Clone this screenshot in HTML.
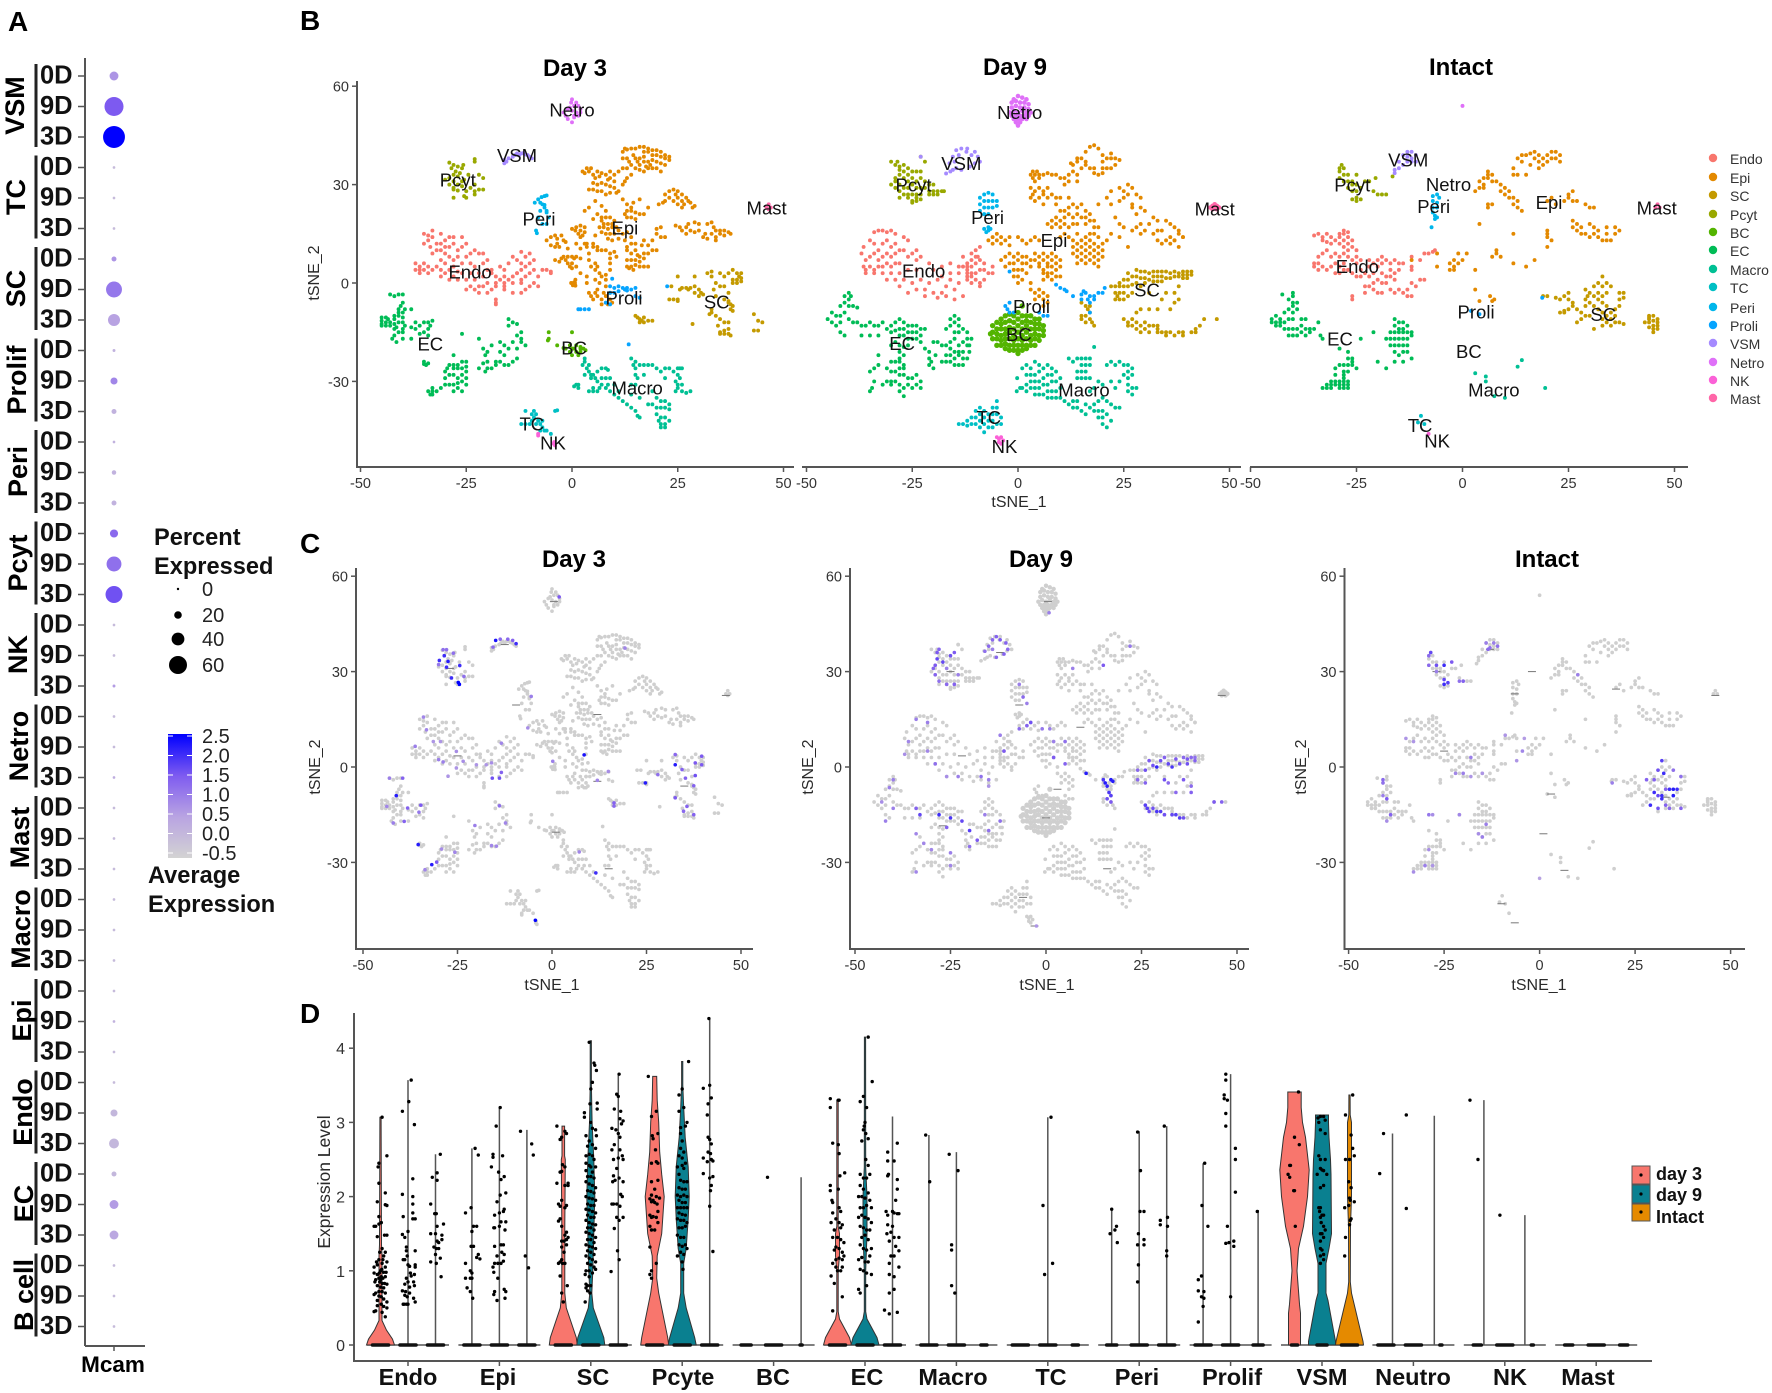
<!DOCTYPE html>
<html lang="en">
<head>
<meta charset="utf-8">
<title>Mcam expression across cell types</title>
<style>
html,body{margin:0;padding:0;background:#fff;}
#figure{display:block;width:1772px;height:1393px;font-family:"Liberation Sans",sans-serif;filter:blur(.35px);}
text{font-family:"Liberation Sans",sans-serif;fill:#1a1a1a;}
.bold{font-weight:700;fill:#000;}
.letter{font-weight:700;font-size:28px;fill:#000;}
.ptitle{font-weight:700;font-size:24px;fill:#000;text-anchor:middle;}
.axt{font-size:16px;fill:#2a2a2a;text-anchor:middle;}
.legA{font-weight:700;font-size:23.6px;fill:#111;}
.legN{font-size:20px;fill:#222;}
.cat{font-weight:700;font-size:23.5px;fill:#111;text-anchor:middle;}
.legT{font-size:14px;fill:#333;}
.legD{font-weight:700;font-size:18px;fill:#111;}
</style>
</head>
<body>
<svg id="figure" xmlns="http://www.w3.org/2000/svg" width="1772" height="1393" viewBox="0 0 1772 1393">
  <defs>
    <linearGradient id="exprGrad" x1="0" y1="1" x2="0" y2="0">
      <stop offset="0" stop-color="#d3d3d3"/><stop offset=".33" stop-color="#b9a4e2"/><stop offset=".66" stop-color="#7f5cf0"/><stop offset="1" stop-color="#0000ff"/>
    </linearGradient>
  </defs>
  <text class="letter" x="8" y="31">A</text>
  <text class="letter" x="300" y="30">B</text>
  <text class="letter" x="300" y="553">C</text>
  <text class="letter" x="300" y="1023">D</text>

  <g id="panelA"></g>
  <text class="bold" x="113" y="1372" font-size="22.5" text-anchor="middle">Mcam</text>
  <text class="legA" x="154" y="545">Percent</text>
  <text class="legA" x="154" y="574">Expressed</text>
  <rect x="168" y="734" width="24" height="124" fill="url(#exprGrad)"/>
  <text class="legA" x="148" y="883">Average</text>
  <text class="legA" x="148" y="912">Expression</text>
  <g id="legendA"></g>

  <g id="panelB"></g>
  <text class="ptitle" x="575" y="76">Day 3</text>
  <text class="ptitle" x="1015" y="75">Day 9</text>
  <text class="ptitle" x="1461" y="75">Intact</text>
  <text class="axt" x="1019" y="507">tSNE_1</text>
  <text class="axt" transform="translate(319,273) rotate(-90)">tSNE_2</text>

  <g id="panelC"></g>
  <text class="ptitle" x="574" y="567">Day 3</text>
  <text class="ptitle" x="1041" y="567">Day 9</text>
  <text class="ptitle" x="1547" y="567">Intact</text>
  <text class="axt" x="552" y="990">tSNE_1</text>
  <text class="axt" x="1047" y="990">tSNE_1</text>
  <text class="axt" x="1539" y="990">tSNE_1</text>
  <text class="axt" transform="translate(320,767) rotate(-90)">tSNE_2</text>
  <text class="axt" transform="translate(813,767) rotate(-90)">tSNE_2</text>
  <text class="axt" transform="translate(1306,767) rotate(-90)">tSNE_2</text>

  <g id="panelD"></g>
  <text class="axt" font-size="17.5" style="font-size:17.5px" transform="translate(330,1182) rotate(-90)">Expression Level</text>
  <text class="cat" x="408" y="1385">Endo</text>
  <text class="cat" x="498" y="1385">Epi</text>
  <text class="cat" x="593" y="1385">SC</text>
  <text class="cat" x="683" y="1385">Pcyte</text>
  <text class="cat" x="773" y="1385">BC</text>
  <text class="cat" x="867" y="1385">EC</text>
  <text class="cat" x="953" y="1385">Macro</text>
  <text class="cat" x="1051" y="1385">TC</text>
  <text class="cat" x="1137" y="1385">Peri</text>
  <text class="cat" x="1232" y="1385">Prolif</text>
  <text class="cat" x="1322" y="1385">VSM</text>
  <text class="cat" x="1413" y="1385">Neutro</text>
  <text class="cat" x="1510" y="1385">NK</text>
  <text class="cat" x="1588" y="1385">Mast</text>
  <g>
    <rect x="1632" y="1166" width="18" height="18" fill="#F8766D" stroke="#555"/>
    <rect x="1632" y="1185" width="18" height="18" fill="#0a8090" stroke="#555"/>
    <rect x="1632" y="1204" width="18" height="17" fill="#E58A00" stroke="#555"/>
    <circle cx="1641" cy="1175" r="1.6" fill="#000"/>
    <circle cx="1641" cy="1194" r="1.6" fill="#000"/>
    <circle cx="1641" cy="1212" r="1.6" fill="#000"/>
    <text class="legD" x="1656" y="1180">day 3</text>
    <text class="legD" x="1656" y="1201">day 9</text>
    <text class="legD" x="1656" y="1223">Intact</text>
  </g>
</svg>
<script>
/* ---------- Panel A data ---------- */
const dotGroups=['VSM','TC','SC','Prolif','Peri','Pcyt','NK','Netro','Mast','Macro','Epi','Endo','EC','B cell'];
const dotDays=['0D','9D','3D'];
const dotPct=[25,64,75, 1,1,1, 10,52,37, 2,18,10, 1,8,10, 22,48,56, 1,1,2, 1,1,1, 1,1,1, 1,1,1, 1,1,1, 1,18,29, 10,25,25, 1,1,1];
const dotExpr=[.7,1.5,2.5, 0,0,0, .7,1.1,.5, .2,.9,.2, .2,.2,.2, 1.3,1.2,1.6, 0,0,.6, 0,0,.3, 0,0,0, 0,0,0, 0,.2,0, 0,.1,.1, .1,.6,.4, 0,0,0];
const pctLegend=[0,20,40,60];
const exprLegend=['2.5','2.0','1.5','1.0','0.5','0.0','-0.5'];
const exprLegendValues=[2.5,2,1.5,1,.5,0,-.5];

/* ---------- tSNE data: Day 3 ---------- */
const d3Endo=[-35,15,-34,13,-33,16,-33,14,-35,12,-32,12,-31,15,-30,13,-32,10,-33,9,-31,10,-30,9,-29,11,-28,12,-27,10,-26,11,-25,12,-26,14,-28,14,-34,14.5,-33.5,11,-31,7,-29,8,-27,8,-25,8,-24,9,-23,10,-22,9,-21,9,-37,6,-36,5,-35,6,-36,4,-35,4,-34,5,-34,3,-36,3,-33,4,-37,4,-32,5,-30,6,-31,4,-29,4,-28,5,-26,6,-24,6,-23,5,-21,6,-20,7,-22,3,-24,3,-26,3,-28,2,-30,3,-31,2,-29,1,-27,1,-25,1,-23,1,-21,2,-20,4,-19,3,-18,2,-17,1,-16,0,-15,1,-14,2,-13,3,-12,4,-11,5,-10,6,-12,6,-13,7,-14,8,-11,8,-9,7,-9,4,-10,3,-11,2,-12,1,-8,2,-9,0,-10,-1,-11,-2,-12,-3,-14,-3,-16,-2,-18,-1,-19,-2,-20,-3,-22,-3,-23,-2,-25,-2,-24,-1,-22,-1,-20,0,-18,0,-16,2,-14,0,-12,0,-8,-1,-7,4,-6,4,-5,3.5,-5,3,-18,-5,-18,-6,-18,-6.5,-19,4,-17,5,-16,4,-15,6,-10,9,-12,9.5,-13,3,-16,-1,-21,-1,-27,3.5,-28,7,-30,11,-29,14,-31,12];
const d3Epi=[12,40,12.5,41,13,40.7,14,41,15,41,16,41.5,17,41.5,17,40,18,41,18,40,19,40.5,19,39,20,40.5,20,39,21,40,21,38.5,22,39,22,38,23,38.5,23,37.5,12,38,13,38,13.5,37,14.5,39,15,38,15.5,37,16,38,16,36,17,38.5,17,37,17.5,35.5,18,37,18,35,18.5,36,19,37.5,19,35,20,37,20,35,21,36.5,21,34,22,36,16,34.5,17,34,15,35,14,36,13,35,12,35,11,34,10,33,9,32,2.5,34,3,33.5,3.5,35,4,34,4.5,35,5,33,5.5,32,6,34,6.5,32.5,7,33.5,8,33,8.5,31.5,9,34,5,30.5,6,30,7,30.5,8,30,9,29.5,10,31,10,29,10.5,27.5,9,27.5,8,27,5,28.5,4,28.5,6,28,7,28,11,28,12,30,12.5,31,13,32,14,33,12,25.5,13,24,14,23,13,22,14,22,12.5,21,15,21.5,16,21,13,20,14,20,15,19.5,14.5,24.5,16,25.5,18,23,17,21,4,23,5.5,25,6,21,7,20,5,19.5,3,22,7,19,8,20,9,20,7.5,18,8.5,18,9.5,18,10,19,6.5,17,7.5,17,8.5,16.5,9.5,17,10.5,17,11,16,7,15.5,8,15,9,15,10,15,12,15,13,15.5,14,14,8.5,13.5,9.5,13,11,13.5,12.5,13,14,12,0,16.5,1,17,2,17.5,3,17,.8,16,2,16,3,15.5,1.5,15,2.5,14.5,2,14,3.5,12,5,12,6,11,-6,13,-5,14,-4,14.5,-3.5,13.5,-2.5,14.5,-2,13,-5,11.5,-4,11,-3.5,12,-1.5,12.5,-4,7,-3,6.5,-2.5,7.5,-2,8,-1.5,7,-1,8,0,8,.5,7.5,1,8,2,7.5,-1,6,0,6,-.5,5,0,4.5,1,5,2,3,.8,1,.5,.2,.8,-.8,.7,0,-.2,0,.5,-.5,.2,-.7,5,11,6,10,7,10,8,10,9,9,10,9.5,5.5,6,4.5,5,5.5,4,6,5,6.5,3,7,2,5.5,1,6.5,0,6,-2,5.5,-3,4,-3,4.5,-4,5,-5,6,-4,7,-5,7.5,-3,8,-4,8,-6,9,-5,7,-6.5,8.5,-6.5,9.5,-6,9,-3,8,-1,8,1,8,2.5,9,4,9,6,9,7.5,10.5,8,13,11,14,9,15,10,15.5,8.5,16,8,17,9,13,7,14,7,15,7,16,6.5,13,5,14,5,15,5.5,16,5,17,5,18,5,13.5,4.5,14.5,4,17,7.5,18,9,19,10,20,10,15,12,16.5,11.5,18,11.5,19,13,20,15,21,14,20,16.5,21,17,22,14,17,13,13,10,20.5,24,21.5,24.5,22,25,22,27,23,26,23,28,24,28.5,24.5,27,25,28,25,26,26,27,24,25,25,24,26,25,27,26,27.5,25,28,24.5,28.5,23,29,23.5,26,23,26.5,24,24.5,17.5,25.5,17,26,16,27,17,27.5,18,28,16,29,15.5,29,18.5,30,18,30,16,31,14,31.5,15,32,13.5,32,18,33,18.5,33.5,17,34,16,33,15,34,14,35,16,35,15,36,14.5,36,16,37,15.5,37.5,15,34,13,27,15,-3,11,-1,10.5,1,12,2,10.5,3,12,3.5,11,4,9,4,7,5.5,14.5,7,23.5,8,22,3.5,2,3.5,0];
const d3SC=[25,2,25.5,-2,26,-1.5,27,-1.5,28,-1.5,29,2,27.5,-2,29,-1,30,-2,30.5,-3,29,-3,30,-4,31,-3.5,23,-5,24,-5,25,-5.5,25,-5,23.5,-1,32,3,33,3.5,33,2,35,3,36,2,37,3,38,4,39,3,40,3,39.5,2,39,1,40,1.5,38,1,39,0,38,0,40,.5,34,0,35,-1,36,-1,37,-3,33.5,-2,34,-4,37,-6,37.5,-6.5,38,-7,36,-5,37.5,-8,38,-8.5,37,-5.5,33,-8,33,-9,32.5,-9.5,34,-10,35,-11,36,-12,37,-12,34.5,-13,37,-14,36,-14.5,35,-15,36,-15.5,37,-15.5,37.5,-16,35,-15.5,28.5,-12.5,43,-9.5,44,-11.5,45,-12,43,-14.5,44,-14.5,15,-10,15.5,-10.5,16,-11,16.5,-11.5,17,-12,16,-12,18,-11.5,19,-11.5,17,-10.5];
const d3Pcyt=[-29,36.7,-28,36,-28.5,35,-27,35.5,-27.5,34,-28,33,-26,35,-25.7,36,-23,37,-23,37.8,-26.5,33.5,-27,32.5,-28,31,-29,32,-30,31.5,-29,30,-28,29,-27,30,-26,29.5,-25,28,-24,29,-25,26,-25.5,26.5,-28,26,-22,33,-21,32,-23,30,-23,28,-22,28.5,-21,28.5,-25.5,31.5,-24.5,33,-26,31,-28,28.5,-27,28.2,-23,27];
const d3BC=[-5.5,-15,-5.5,-17,-5.7,-17.5,0,-15,-3.5,-19,-2,-19.8,-1.5,-20,-.5,-19,0,-20,.5,-20,1,-19,1,-21,2,-19.5,2,-20,2,-21,2.7,-20,-.5,-21,3.2,-20.5,1.5,-22,0,-22];
const d3EC=[-43,-3.5,-42,-4,-41,-3.5,-40,-3.5,-40,-6,-40.5,-7,-41,-8,-39.5,-8,-41,-9,-40,-9,-38,-8,-42,-10,-41,-10,-40,-10.5,-45,-10.5,-45,-11.5,-45,-12.5,-45,-13,-44,-10.5,-44,-12,-44,-13,-43.5,-11,-43,-12,-43,-13,-42,-11,-42,-12.5,-41.5,-13.5,-41,-12,-40,-12,-39.5,-13,-40,-14,-41,-15,-40,-15,-42,-14,-42,-16,-42.5,-17,-41.5,-18,-40,-17,-38,-17,-37,-14,-36,-13,-35,-12,-34,-12,-33,-11.5,-35,-15,-34,-16,-36,-15.5,-37,-12,-38,-13.5,-33.5,-13,-34,-14,-26,-15.5,-22,-17,-35,-24,-35,-24.7,-34.5,-25,-34,-24.5,-28,-22,-29,-25,-28,-25,-27,-25,-26,-24,-25,-24,-28,-26,-27,-26,-26,-26,-25,-25.5,-25,-27,-29.5,-26,-30,-27,-30,-29,-29,-28,-28,-28,-27,-29,-26,-28,-25,-29,-25,-31,-26,-30,-27,-32,-26,-33,-28,-33,-28,-31,-27,-30.5,-29,-31,-30,-31,-31,-32,-32,-33,-33,-32,-34,-33,-33.5,-34,-33,-33,-33,-34,-22,-26,-20,-24,-19,-19,-21,-20,-20,-21,-20.5,-22,-21,-24.5,-20,-26,-20.5,-27,-19,-26,-18,-24,-18,-25,-17,-24,-16,-25,-15,-25,-14,-24,-13,-23,-16,-22,-17,-21,-15,-20,-13,-20,-14,-18,-12,-18,-11,-19,-13,-16,-12,-15,-15,-13,-15,-11,-14,-12,-13,-12.5,-12,-17,-16,-19,-17,-18];
const d3Macro=[3,-23,3,-24,4,-25,3.5,-26,4,-27,4.5,-28,3,-28,2.5,-25,4.5,-29,5,-28,5.5,-29,6,-27,7,-26,8,-26,8.5,-26.5,6,-30,7,-29,7,-31,8,-29,8.5,-31,6.5,-32,5,-32,9,-29,9,-33,10,-31,10,-34,11,-33,11,-35,12,-36,13,-37,14,-38,15.5,-40.5,15,-39,16,-41,.5,-31.5,1,-31,1.5,-32,1.5,-31,4,-33,5,-33,6,-33,8,-32,14,-23,15,-24,15,-26,14.5,-25,15,-28,15.5,-29,14,-31,15,-31,16,-25,17,-25,17,-28,18,-25,19,-25,20,-26,21,-27,22,-26,23,-26,24,-27,25,-26,25.5,-26,26,-26,25,-28,25.5,-29,24.5,-30,25,-31,26,-31,25,-32,24.5,-33,26,-33,27,-33.5,28,-33,22,-29,16,-35,14,-34,19,-33,20,-35,21,-36,22,-36,23,-37,20,-38,21,-38,22,-38,23,-38.5,20,-40,21,-41,22,-41,23,-42,21,-43,22,-43,20.5,-42,22,-44,21,-44,19,-37,18,-37];
const d3TC=[-12,-43,-11,-43,-10,-43,-9.5,-42,-9,-39,-11,-39,-9.5,-40,-9,-41,-8.5,-43,-8,-42,-7.5,-43,-7,-42,-8.5,-40,-7,-44,-6.5,-45,-6,-45,-4,-39,-3.5,-38.8,-5,-46,-7.5,-45];
const d3Peri=[-8.8,24.5,-8,25.5,-7.2,26.2,-6.5,26.5,-6,26.7,-7.5,24.5,-7,24,-6.5,23,-6,22,-7.5,22,-6,21.5,-5.5,20,-8,20,-7,18,-6,18,-8.5,16,-8.3,15.2,-6.5,23.8];
const d3Proli=[9.5,1.3,9,-1,10,-1.5,11,-1,12,-1.5,12.5,-2,13,-1.5,13,-2.3,14,-2,15,-1.5,11,-2.5,10,-3,9,-3,8,-6,9,-6.5,15,-4,16,-4.5,2,-8,3,-8,1.5,-8,4,-8,13.4,-18.7,22.5,-1];
const d3VSM=[-16,36.5,-15.5,37,-15,38,-14,38.5,-13,39.5,-12.5,39,-12,39.5,-11,39.2,-10.5,39,-10,38.5,-9.5,38,-16,37.5,-13.5,39,-11.5,39.6];
const d3Netro=[0,56,1,55,.5,54,-.5,53.5,1.5,54,2,53,-1,53,0,52.5,1,52,-2,52,-1.5,51,.5,51,1.5,51,2,52,-1,50,0,49,.5,50.5,-.2,55];
const d3NK=[-8,-46,-8,-46.5,-4.3,-49,-4,-49.5,-4.2,-48.5];
const d3Mast=[46.5,24,46,23,47,23,46.5,22.5];

/* ---------- tSNE data: Day 9 ---------- */
const d9Endo=[-37,9,-36.5,11,-36,7,-36.5,5,-35,13,-34,15.5,-33,16,-32,16,-31,15.5,-30,16,-29,15,-27,14,-26,13,-34,12,-33,10,-32,12,-31,13,-30,11,-29,12,-35,8,-34,9,-33,7,-32,8,-31,9,-30,8,-29,9,-28,10,-27,10,-35,5,-36,4,-34,4,-33,5,-32,5,-31,6,-30,5,-29,6,-28,6,-26,8,-25,9,-24,10,-24,7,-23,8,-24,4,-26,4,-28,3,-30,3,-32,3,-34,3,-36,3,-31,1,-29,1,-27,1,-25,0,-23,1,-21,0,-22,-2,-24,-2,-26,-3,-28,-1,-20,-3,-18,-3,-17,-4,-19,-4.5,-22,-4,-20,4,-18,5,-16,6,-18,2,-16,1,-14,0,-15,-2,-13,-4,-15,-5,-17,-1,-19,1,-21,6,-14,5,-12,6,-11,7,-13,8,-11,9,-10,10,-9,11,-10,8,-12,5,-13,5,-12,4,-11,5,-10,6,-9,7,-8,6,-11,3,-12,3,-10,3,-11,2,-12,2,-9,4,-8,4,-10,1,-11,0,-9,0,-7,3,-6,3,-9.5,8,-12,1,-9,-1,-8,1,-14,3,-16,3,-6,5];
const d9Epi=[3,33,3.5,34,4,33,4.5,34,5,33,3.5,32,4,31,5,32,6,33,7,33.5,8,33,9,33,10,32,11,32,12,33,13,34,14,33,12,31,11,30,14,31,3,29,3.5,27,4,28,5,29,6,28,7,29,5,26,6,27,7,26,8,27,9,26,10,26,3,26,4,25,6,24,12.5,36.5,13,36,14,37,15,38,15,35,16,36,16,40,17,41.5,18,42,19,41,16,37,17,35,18,35,18,33.5,19,33,20,35,20,37,21,38,22,38,23,38,24,37.5,21,35,20,33.5,22,35,23,36,14,38,20,39,22,39.5,19,24,21,26,22,28,24,29,25,28,26,30,27,29,26,27,25,26,24,25,28,27,29,26,27,24,29,23,30,22,28,21,27,23,22,24,23,20,24,18,25,17,27,16,28,17,29,15,30,16,31,18,33,19,29,18,32,15,35,19,36,18,37,17,38,16,38,15,39,14,37,13,36,14,35,13,34,16,33,13,33,16,32,20,9,24,10,22,11,22,12,23,13,24,14,23,15,24,16,22,12,26,13,20,11,20,10,19,8,19,9,20,12,21,14,21,16,20,17,19,18,17,17,21,15,20,13,18,11,18,9,18,8,17,7,18,10,17,12,17,14,18,16,18,18,19,19,17,13,13,14,12,15,13,16,12,17,13,18,12,19,11,13,11,14,10,15,11,16,10,17,11,18,10,19,9,13,9,14,8,15,9,16,8,17,9,18,8,19,7,14,6,15,7,16,6,17,7,18,6,19,5,20,8,20,10,20,12,16,14,14,15,18,15,17,15,19,14,12,14,11,15,10,14,4,9,5,8,6,9,7,8,8,9,9,8,10,7,4,7,5,6,6,7,7,6,8,7,9,6,10,5,5,5,6,4,7,5,8,5,9,4,6,3,7,3,8,3,7,2,6,1,8,1,10,2,9,2,-4,7,-3,8,-2,9,-1,8,0,9,1,8,2,8,3,7,-3,5,-2,6,-1,6,0,7,1,6,2,6,3,5,-1,4,0,4,1,4,2,3,0,2,1,1,-1,2,0,0,3,0,-7,13,-6,14,-5,15,-4,14,-5,13,-4,12,-3,13,-2,14,-6,12,-2,11.5,0,14,1,13,2,12,3,13,4,14,5,13,3,-2,4,-3,5,-2,6,-3,5,-4,6,-5,7,-6,7,-4,4,-5,6,-7,24,14,21,13,22,15,26,11,36,12,38,11,37,13,39,14,34,12];
const d9SC=[39,3.5,40,3.5,41,3.5,39,2.5,40,2.5,41,2.5,38,3,37,3.5,38,2,37,2,39,1.5,40,1.5,36,3,35,3.5,34,3.5,33,3.5,32,3.5,31,3,30,3.5,29,3.5,28,4,36,1.5,35,1.5,34,2,33,2,32,2,31,1,30,1.5,29,1.5,28,2,27,2,26,3,33,.5,32,.5,34,.5,30,0,28,0,26,1,25,1,24,0,23,-1,22,-1,24,-1,25,-1,26,-1,27,-.5,29,-1,23,-3,23.5,-4,24,-3,25,-3,24,-5,23,-5,25,-5,26,-4,27,-3,31,-3,34,-5,35,-3,37,-3,38,-1,38,-5,37,-6,36,-8,33,-8,31,-8,28,-9,29,-8,15,-6,16,-7,16.5,-8,17,-9,17,-7,15,-10,16,-10,15,-11,17,-11,16,-12,17.5,-12,18,-13,25,-11,26,-12,27,-13,26,-13,27,-11,28,-12,28,-14,29,-13,29,-15,30,-12,31,-13,31,-15,32,-13,33,-14,33,-15,34,-15,35,-15,35,-16,36,-15,37,-16,38,-15,39,-16,39,-15,41,-15,42,-15,43,-13,44,-11,42,-14,47,-11,33,-13,30,-14];
const d9Pcyt=[-30,37,-29,36,-28.5,37,-28,35.5,-28,34.5,-27,36,-27,34,-26,35,-26,33,-25,34,-24,34,-28,33,-29,32,-29,31,-30,30,-29,29,-28,30,-27,32,-26,31,-25,32,-24,31,-23,32,-22,31,-21,30,-28,28,-27,29,-26,29,-25,30,-24,29,-23,29,-22,29,-21,28,-20,28,-20,27,-19,28,-18,28,-19,27,-21,27,-23,27,-24,27,-25,27,-26,27,-27,27,-28,26,-26,26,-25,25,-24,26,-25,24.5,-24,25,-23,25.5,-23,34,-22,37,-23,38.5,-17.5,28,-20,30];
const d9BC=[-4,-11,-3,-10,-2,-9.5,-1,-10,0,-9,1,-10,2,-10,3,-10,4,-11,5,-11,-5,-12,-4,-12.5,-3,-12,-2,-11.5,-1,-12,0,-11,1,-12,2,-11.5,3,-12,4,-12.5,5,-12.5,6,-13,-6,-13,-5,-14,-4,-14,-3,-14,-2,-13.5,-1,-14,0,-13,1,-14,2,-13,3,-14,4,-14,5,-14,6,-14.5,-6,-15,-5,-15.5,-4,-16,-3,-15.5,-2,-15,-1,-16,0,-15,1,-16,2,-15,3,-16,4,-15.5,5,-16,6,-16,-6,-17,-5,-17,-4,-17.5,-3,-17,-2,-17,-1,-17.5,0,-17,1,-17.5,2,-17,3,-17.5,4,-17,5,-17.5,-5,-19,-4,-19,-3,-18.5,-2,-19,-1,-19,0,-19,1,-19,2,-19,3,-19,4,-19,-3,-20,-2,-20.5,-1,-20.5,0,-20.5,1,-20.5,2,-20,0,-21.5,1,-7,-6.5,-15.5];
const d9EC=[-40,-3,-41,-4,-39.5,-4,-40,-5,-41,-6,-42,-7,-40,-7,-39,-7,-38,-7.5,-44,-9,-43,-10,-42,-10,-41,-9,-45,-11,-44,-12,-43,-13,-42,-12,-40,-11,-39,-12,-38,-12,-37,-13,-36,-13,-42,-15,-41,-16,-37,-16,-35,-16,-33,-16,-35,-12,-34,-13,-33,-13,-32,-12,-31,-14,-30,-13,-29,-12,-28,-11,-27,-12,-26,-13,-25,-13,-24,-13,-23,-14,-22,-14,-30,-15,-29,-14.5,-28,-14,-27,-14,-26,-15,-25,-15,-24,-15,-23,-16,-28,-16,-27,-16,-26,-17,-25,-17,-24,-17,-23,-18,-29,-18,-30,-19,-28,-19,-26,-19,-22,-20,-20,-18,-19,-18,-18,-19,-15,-10,-16,-11,-15,-12,-14,-11,-16,-13,-14,-13,-13,-14,-17,-14,-15,-15,-14,-15,-12,-15,-12,-17,-11,-17,-13,-18,-15,-17,-16,-18,-17,-19,-14,-19,-12,-19,-11.5,-19,-16,-20,-15,-21,-14,-21,-13,-21,-17,-22,-16,-22,-15,-23,-14,-22,-13,-23,-12,-23,-11.5,-21,-18,-24,-17,-24,-16,-24,-15,-25,-14,-25,-13,-25,-21,-21,-21,-23,-21,-25,-20,-26,-20.5,-24,-19.5,-22,-27,-22,-28,-23,-29,-24,-28,-24,-27,-25,-27,-26,-28,-26,-29,-27,-30,-27,-31,-26,-28,-28,-27,-28,-26,-29,-25,-29,-26,-31,-25,-32,-27,-32,-28,-33,-30,-30,-31,-30,-32,-31,-29,-30,-30,-31,-28,-31,-33,-25,-34,-26,-35,-27,-30,-24,-28,-21,-27,-19.5,-33,-22,-24,-28,-23,-30,-24,-31,-23,-32,-27,-34.5,-35,-33,-34.5,-32,-34,-30];
const d9Macro=[1,-26,2,-25,3,-26,4,-24,5,-25,5,-27,4,-28,3,-28,2,-28,6,-26,7,-25,8,-26,3,-30,4,-30,5,-30,6,-29,7,-28,8,-28,9,-27,2,-31,1,-32,.5,-32,2,-33,3,-32,4,-32,5,-32,6,-31,7,-31,8,-30,9,-30,10,-29,4,-34,5,-34,6,-34,7,-33,8,-33,9,-33,10,-32,7,-35,8,-35,9,-35,10,-35,11,-36,12,-37,13,-38,14,-38,15,-39,16,-40,14,-36,13,-36,16,-37,17,-38,18,-37,19,-36,20,-35,21,-36,22,-37,23,-38,24,-38,18,-39,19,-39,19,-41,20,-41,20,-43,21,-44,22,-42,21,-40,20,-39,12,-23,13,-24,14,-23,15,-23,16,-23,17,-23,15,-25,16,-25,17,-25,14,-27,15,-27,16,-27,15,-29,16,-29,14,-29,17,-29,21,-25,22,-24,23,-25,24,-24,25,-25,26,-25,26,-27,27,-26,27,-28,26,-29,25,-28,26,-31,27,-32,28,-32,26,-33,27,-34,23,-32,24,-30,22,-30,20,-31,19,-30,18,-32,17,-33,18,-19.5,-.2,-29,-.3,-33];
const d9TC=[-14,-43,-13,-43,-12,-42,-12,-43.5,-11,-41,-11,-43,-10,-39,-10,-41,-10,-43,-9,-38,-9,-40,-9,-42,-9,-44,-8,-39,-8,-41,-8,-43,-8,-45.5,-7,-40,-7,-42,-7,-44,-6,-38,-6,-40,-6,-42,-6,-44,-5,-36,-5,-38,-5,-40,-5,-43,-4,-41,-4,-43];
const d9Peri=[-9,26,-8,27,-7,27.5,-6,27,-9,24,-8,25,-7,25,-6,25,-5,25,-5,23.5,-8,23,-7,23,-6,23,-8,21,-7,21,-7,17,-8,16.5,-7,16,-6.5,16.5,-7.5,15.5,-9,22];
const d9Proli=[9,-.5,10,-1.5,11,-2,11.5,-2.5,13,-4,15,-3.5,15.5,-2.5,15,-5,16,-3,17,-4,18,-4,18,-5,17,-6,16.5,-5,19,-3,20,-3,20.5,-1.5,-2,-6,-3,-7,-2.5,-8,-2,-9,-1,-9,5,-9,6,-10,7,-10,17,-9,-2,3.5];
const d9VSM=[-17,33.4,-16,34,-15.4,34.5,-16.2,36.5,-15.4,38.5,-14.6,40.5,-13.4,41,-12.2,40,-11,39,-10.2,40,-9.5,38.5,-9,37,-10.2,36.5,-11.4,35.5,-13.4,34.5,-14.6,35,-15,37,-14,39,-12,41,-23,38.5];
const d9Netro=[-1,56,0,57,1,56.5,2,56,-1.5,55,-.5,55.5,.5,55,1.5,55,2.5,54.5,-1.5,53.5,-.5,54,.5,53.5,1.5,53.5,2.5,53,-2,52,-1,52.5,0,52,1,52.5,2,52,3,52,-1.5,51,-.5,51,.5,51,1.5,51,2.5,51,-1,50,0,50,1,50,2,50,-.5,49,.5,49,0,48];
const d9NK=[-5,-47,-4.5,-47.5,-4,-47,-4.5,-48.5,-4,-49,-3.5,-48];
const d9Mast=[46,23.5,47,23.5,46.5,23,46,22.5,47,22.5,46.5,24,47.5,23,45.5,23];

/* ---------- tSNE data: Intact ---------- */
const inEndo=[-35,14.5,-34,15,-33,14,-32,15,-31,14,-33,13,-32,12.5,-31,12,-30,13,-29,14,-28,15,-28,16,-27,15.5,-29,15,-27,14,-28,13,-29,12,-27,12,-26,13,-28,11,-26,11,-25,10,-27,10,-28,9,-30,9,-32,10,-33,9,-34,8,-31,8,-29,8,-35,6,-35,5,-34,6,-33,5,-34,4,-32,4,-31,5,-30,6,-29,5,-28,6,-27,8,-26,7,-25,8,-25,6,-24,7,-30,3,-29,3,-28,4,-27,4,-26,3,-25,2,-24,2,-23,3,-22,2,-21,3,-24,4,-22,5,-21,6,-20,7,-19,8,-22,7,-20,5,-19,6,-18,7,-17,6,-16,7,-15,6,-14,6,-17,4,-16,3,-15,4,-19,3,-18,2,-17,2,-16,1,-20,1,-19,0,-18,0,-21,0,-22,-1,-23,-1,-21,-2,-20,-3,-23,-3,-19,-3,-17,-2,-16,-3,-26,-4,-26,-5,-15,-2,-14,-3,-13,-4,-12,-4,-13,-2,-11,-1,-12,0,-10,1,-9,1,-12,4,-12,5,-12,8,-10,7,-9,9,-8,9,-7,9.5,-6.5,10];
const inEpi=[13,38,14,39,15,39,16,39.5,17,40,17,38,18,39,18,37,19,38,19,36,20,39,20,37,21,40,21,38,22,40,22,38,23,39,23,37,14,37,16,36,18,35,12,35,12,33,13,33,15,33,6,34,6,33,5,32,6,32,7,33,7,31,8,31,5,30,4,31,5,29,4,29,3,28,9,30,9,28,10,29,10,27,11,28,11,26,12,26,13,23,13,25,14,22,12,24,6,24,7,24,6,23,20,25,21,26,22,24,24,25,25,26,25,27,26,28,26,25,27,25,29,24,30,23,31,23,26,19,26,17,27,18,27,16,28,17,29,15,30,14,31,15,32,14,33,13,34,13,35,13,36,15,37,16,36,17,30,18,31,17,32,16,34,17,34,15,28,15,4,18,20,15,20,14,21,13,20,16,12,15,-3,6,-2,7,-2,5,-1,6,-3,4,-2,4,-1,9,0,7,1,9,9,8,7,8,8,10,8,9,12,6,15,5,17,7,3,4,3,-2,6.5,-4,7.5,-5,7,-5.5,4,-5.5,20,11,-6,5,-12,7,-6,9];
const inSC=[19,-4,20,-4,22,-4.5,23,-5,24,-4,25,-5,25,-3,26,-6,26,-7,25,-8,24,-9,23,-9,24,-8.5,27,-8,28,-9,29,-7,29,-10,30,-10,28,-11,27,-12,29,-2,29,-5,29.5,-4,30,-3,30,-6,31,-1,31,-4,31,-7,32,0,32,-3,32,-5,32,-8,33,2,33,-1,33,-4,33,-6,33,-9,33,-11,33,-13,34,0,34,-3,34,-7,34,-10,34,-12,35,-1,35,-9,35,-11,35,-13,36,-8,36,-10,36,-12,37,-3,37,-5,37,-7,37,-12,38,-3,38,-4.5,38,-12.5,44,-10,45,-10,46,-11,44,-11,45,-11.5,46,-12,44,-12,45,-13,46,-13,43,-12,44,-13.5,45,-14,46,-14,45,-15,44,-10.5,31,-14];
const inPcyt=[-28.5,36,-29,35,-28,35,-29,34,-28,33,-29,32,-28,31,-27,33,-26,31,-26,30,-25,30,-27,29,-26,28,-25,28,-25,26,-26,25.5,-25,25,-24,29,-24,25.5,-23,31,-22,31,-20.5,32,-20,27,-19,27,-18,27,-21,28,-16.5,32.5,-27,31,-25,33];
const inBC=[];
const inEC=[-42.5,-3.5,-40,-3,-40,-4,-41,-5,-40,-6,-39,-6,-40,-7,-41,-8,-39,-8,-40,-9,-42,-9,-44,-10,-43,-11,-45,-11,-44,-12,-43,-12,-45,-12,-44,-13,-43,-13,-42,-12,-41,-11,-40,-11,-38,-11,-37,-11,-41,-14,-42,-14,-40,-14,-39,-14,-38,-13,-37,-14,-36,-14,-35,-14,-34,-12,-41,-16,-40,-16,-39,-16,-38,-15,-37,-16,-36,-15,-33.5,-16,-33,-17,-24,-17,-21,-15,-16,-11,-15,-12,-14,-12,-16,-13,-15,-14,-14,-14,-13,-13,-17,-15,-16,-15,-15,-15,-14,-15,-13,-15,-12,-15,-18,-17,-17,-17,-16,-17,-15,-17,-14,-17,-13,-17,-12,-16,-17,-19,-16,-19,-15,-19,-14,-19,-13,-19,-16,-21,-14,-21,-13,-21,-15,-22,-20,-24,-18,-26,-16,-24,-14,-24,-12,-23,-29,-20,-27,-21,-26,-23,-27,-23,-26,-24,-29,-25,-28,-25,-27,-25,-26,-25,-25,-26,-30,-26,-28,-27,-27,-27,-30,-28,-28,-28,-28,-29,-31,-30,-30,-30,-29,-30,-28,-30,-27,-30,-32,-31,-31,-31,-30,-31,-29,-31,-28,-31,-27,-31,-33,-32,-32,-32,-31,-32,-29,-32,-28,-32,-27,-32];
const inMacro=[14,-23.5,13,-25.5,3,-27.5,5.5,-28.5,5.5,-30,19.5,-32,7.5,-34.5,10,-35];
const inTC=[-9.8,-40.5,-10.5,-42.5,-9,-43];
const inPeri=[-7,26.5,-6,27,-5.5,26,-7,25,-6,24.5,-7,23,-6,23,-7,21.5,-6.5,20.5,-6.5,19.5,-6,20,-7.3,17];
const inProli=[18.8,-4.5,2,-8.5,4,-9.5];
const inVSM=[-15,37,-14,39,-13,40,-12,40,-11,39,-15,35,-14,36,-13,37,-12,37,-11,37,-16,33.5,-16,34.5,-12,38,-13,38.5];
const inNetro=[0,54];
const inNK=[-8,-46];
const inMast=[46,24,45.5,23,46.5,23];

/* ---------- cluster labels [name, tSNE_1, tSNE_2] ---------- */
const labelsDay3=[['Netro',0,52.7],['VSM',-13,38.9],['Pcyt',-27,31.4],['Peri',-7.8,19.5],['Epi',12.5,16.8],['Mast',46,22.9],['Endo',-24.1,3.4],['Proli',12.3,-4.6],['SC',34.2,-5.8],['EC',-33.5,-18.6],['BC',.5,-19.8],['Macro',15.4,-32],['TC',-9.5,-43],['NK',-4.5,-48.8]];
const labelsDay9=[['Netro',.4,52],['VSM',-13.4,36.5],['Pcyt',-24.7,29.9],['Peri',-7.2,19.9],['Epi',8.5,12.9],['Mast',46.5,22.5],['Endo',-22.3,3.7],['SC',30.5,-2.1],['Proli',3.2,-7.2],['BC',.2,-15.7],['EC',-27.4,-18.4],['Macro',15.6,-32.6],['TC',-6.9,-41],['NK',-3.2,-49.9]];
const labelsIntact=[['VSM',-12.8,37.5],['Netro',-3.3,30.1],['Pcyt',-26,29.9],['Peri',-6.8,23.3],['Epi',20.4,24.6],['Mast',45.8,22.8],['Endo',-24.8,5],['Proli',3.2,-8.9],['SC',33.2,-9.6],['EC',-28.9,-17.1],['BC',1.5,-20.9],['Macro',7.4,-32.6],['TC',-10,-43.5],['NK',-6,-48.2]];

/* ---------- Mcam expressing cells [tSNE_1, tSNE_2, level] ---------- */
const hitsDay3=[-14.9,39.8,2.3,-13.7,40.2,1.3,-11.7,40.2,1.3,-10.4,39.8,1.4,-9.5,38.8,2,-15.6,37.7,1.3,-28.8,36.9,1.2,-27.9,36.9,1.2,-26.1,35.8,1.2,-28.5,35,2,-29.8,33.5,2,-27.5,33.2,2.2,-24.4,31.9,2,-27.9,31.4,2,-26.6,28,2,-24.8,26.6,2.5,-24.5,26,2.5,-23.3,28.5,1.2,-30,32.2,1.1,-34,15.7,.9,-33.2,11.7,.9,-36.2,6.5,1,-31.4,8,.7,-29.5,8,.7,-25.3,4.9,.8,-23.5,1.8,.8,-30,2.3,1,-28.8,1.6,1,-27.5,-2.9,.7,-25.3,-.3,.7,-20,.7,.7,-16,1.3,.8,-13.4,7.5,.9,-17.4,.7,.7,-15.8,-3.5,1.6,-13.9,-3.5,1.6,-13.4,-1.7,1.4,-43,-3.5,1,-39.5,-3.5,1.4,-41.2,-9,2.2,-34.7,-12,1.5,-38.2,-12.9,1.4,-43.7,-12.4,.9,-42,-17.6,1,-39.1,-17.1,1.4,-35.2,-14.2,1.1,-20.4,-18.4,1,-13.9,-12.2,1.2,-12.3,-17.6,.9,-35.4,-24.4,2.2,-31.8,-30.7,2.2,-30.5,-29.9,1.5,-33.6,-32.3,.9,-29.2,-25.8,.8,-25.7,-26.8,.9,-16,-24.7,.9,-14.7,-24.9,.9,39.6,3.4,1.5,32.6,.7,2.2,37.9,1.3,1.5,39.6,.7,1.5,34.4,-.8,1.4,35.3,-3.5,1.4,37.9,-2.7,1.6,37.5,-5.9,1.4,32.6,-9.7,1.5,35.7,-12.4,1.4,34.8,-13.9,1.3,37.5,-15,1.4,24.7,-5,2.2,28,-2.4,1.2,32.6,3.9,1.3,8.5,3.8,2.3,12,-4.2,.9,14.9,-1.4,.8,16.4,-11.3,1.4,16.4,-12.3,1.3,11.6,-33.3,2,-4.4,-48.2,2.5,1.9,53.5,1.5,19.3,37.4,.9,-5.5,22.2,1,-6.4,12.3,.8,7.2,-26.7,.9,.2,1.8,1];
const hitsDay9=[-16,36.4,1.2,-15,38,1.3,-14,40,1.3,-13,41,1.4,-12,40,1.5,-10.5,39,1.4,-10,37,1.3,-11,35.5,1.4,-13,34.5,1.3,-14,37,1,-28.5,36,1.5,-28,37,1.4,-28.5,34,1.7,-29,32,1.5,-29.5,31,1.4,-29,29,1.4,-28,27,1.2,-26,26,1.3,-24,26,1.4,-23,29,1,-27,33,1.7,-25,35,1.6,-24,36,1.5,-26,31,1,-34,15,1,-31,14,1,-36,8,.9,-37,4,.8,-31,5,.9,-29,1,1.2,-26,-3,.8,-23,-3,1,-17,-3,1.2,-15,-4,1,-11,5,1.5,-12,10,1,-15,-6,.7,-40,-4,1,-41,-6.5,1,-43,-11,.8,-40,-13,1,-42,-17,1,-34,-13,1.4,-33,-15,1.7,-28,-15,2,-25,-16,1.9,-26,-19,1.4,-22,-17,1.7,-20,-20,1.8,-18,-23,1.5,-20,-25,1.2,-16,-15,1,-15,-20,1.2,-12,-17,1.2,-34,-21,.9,-32,-24,.9,-30,-26,.9,-25,-27,1,-34,-33,.9,-25,-31,.9,-7,26,1,-6,22,1.3,-5,20,1,-4,14,1.6,-5,13,1.4,-7,12,1.3,-1,12,1.1,1,12,1,2,8,1,2,3,1.5,5,8,1.2,5,1,1.4,10.5,-2,2.2,15,-4,1.9,15.5,-5,2.2,17,-4,2.2,17.5,-4.5,2.2,16,-6,2.1,16.5,-8,1.9,17,-9,1.8,16,-10,1.6,17,-11,1.5,27,2,1.5,28,.5,1.6,29,0,2.1,30,2,1.6,31,3,1.4,32,1,1.7,33,0,1.9,34,2.5,1.5,35,1,1.6,36,3,1.3,37,1,1.6,37,2.5,1.5,38,3,1.3,39,2,1.4,39,3,1.2,24,-1,1.3,26,-1,1.6,24,-4,1.3,26,-5,1.4,31,-4,1.6,32,-5,1.3,36,-4,1.5,38,-6,1.3,38,-8,1.4,34,-8,1.3,26,-12,1.8,26.5,-13,1.8,27,-14,1.6,28,-13,1.6,29,-14,1.9,30,-14,1.8,31,-15,1.6,33,-15,1.7,34,-15,1.8,35,-16,1.8,36,-16,1.6,44,-11,1.5,46,-11,1.4,.8,48.5,1,22,38,1.1,7,31,1,15,32,1.5,-2.5,-50,.7];
const hitsIntact=[-13,37.5,1.2,-12,39,1,-11,38,1.2,-14,39,1,-13.5,37,1.3,-28.5,36,1.7,-29,35,1.3,-29,32,1.3,-27,32,1.6,-25,32,2,-23,33,1.5,-25,26,2,-24,26.5,1.8,-25,27.5,1.7,-21,27,1.2,-27,30,1,-20,27,1.4,-35,9,.7,-33,8,.7,-18,3,1,-20,-2,1,-22,-2,.9,-18,-3,.7,-15,-2,.7,-41,-4,1.3,-41,-5,1.2,-40,-10,1.5,-41,-9,1,-39,-15,1.4,-40,-17,.8,-29,-15,1.1,-28,-15,.8,-21,-15,.9,-15,-22,1,-14,-18,1,-16,-21,.8,-30,-31,1,-29,-26,.8,-33,-33,.8,-28,-31,.7,-4.5,5,.9,-4,9,.6,-9,10,.7,-6,2,.7,30,-4,1.4,30,-8,2,31,-9,1.7,32,-9,2,32,-10,2,33,-7,1.4,34,-7,2,35,-7,2.2,35,-9,2.2,36,-7,2,32,2,1.8,32.5,-2,2,31,-1,1.6,35,-1,1.2,37,-3,1.2,28,-4,1.4,29,-12,2,31,-13,1.6,33,-12,1.4,34,-13,1.3,37,-13,1.4,19,-5,1,10,29,1,0,-35,.5];
const marksDay3=[.5,52,-12.5,38.5,-27,31,-9.5,19.5,12,16.5,-25,3.5,12,-4.5,35,-6,1,-20.5,15,-32,46,22.5];
const marksDay9=[.5,52,-12,36,-25,30,-7,19.5,9,12.5,-22,3.5,3,-7,0,-16,-27,-18.5,16,-32,46,22.5,-6,-41,-3,-50];
const marksIntact=[-13,37,-27,30,-6.5,23,-2,30,3,-8.5,1,-21,6.5,-32.5,-25,5,33,-9.5,20,24.5,46,22.5,-10,-43,-6.5,-49];

/* ---------- scatter ticks ---------- */
const tsneXTicks=[-50,-25,0,25,50];
const tsneYTicks=[60,30,0,-30];

/* ---------- Panel D data ---------- */
const violinCats=['Endo','Epi','SC','Pcyte','BC','EC','Macro','TC','Peri','Prolif','VSM','Neutro','NK','Mast'];
const violinConds=['day 3','day 9','Intact'];
const violinYTicks=[0,1,2,3,4];
const violinTops=[[3.07,3.57,2.57],[2.65,3.2,2.9],[2.95,4.1,3.65],[3.62,3.82,4.4],[0,0,2.26],[3.3,4.15,3.08],[2.83,2.6,0],[0,3.07,0],[1.83,2.88,2.95],[2.45,3.65,1.82],[3.41,3.1,3.37],[2.85,3.09,0],[3.3,1.75,0],[0,0,0]];
const violinShift={'11-0':-.76,'11-1':.76,'12-0':-.76,'12-1':.73};
const zeroRuns=[[8,8,8],[8,8,8],[8,8,8],[8,8,8],[5,8,1],[8,8,8],[8,8,3],[8,8,3],[5,8,8],[8,8,5],[3,5,8],[8,8,1],[4,8,1],[4,8,4]];
const shapeEndo0=[[0,14],[.08,12],[.2,6],[.33,1.5],[1.2,1.5],[1.35,1],[3.07,.6]];
const shapeSC0=[[0,14],[.1,13],[.5,3],[.7,1.5],[1.6,1.5],[2.5,2],[2.55,1.3],[2.95,1.3]];
const shapeSC1=[[0,14],[.1,13],[.5,2.5],[.7,1],[1,2],[1.5,3],[2,4],[2.5,3],[3,1.3],[3.5,.6],[4.1,.6]];
const shapePc0=[[0,14],[.1,13],[.7,4],[.9,2],[1.2,2.5],[1.5,7],[1.7,8],[2,9.5],[2.3,7],[2.6,5],[3,4],[3.3,2.5],[3.62,2]];
const shapePc1=[[0,14],[.1,12.5],[.5,4],[.7,1.5],[1.1,1.5],[1.3,4],[1.7,6],[2,7],[2.4,6],[2.8,3],[3.2,1.5],[3.5,.6],[3.82,.6]];
const shapeEC0=[[0,14],[.1,12],[.35,2],[.45,.7],[1,.7],[1.2,2],[1.5,2],[1.6,.7],[3.3,.7]];
const shapeEC1=[[0,14],[.1,12],[.35,2],[.45,.7],[1,.7],[1.5,2],[2,2],[2.4,.7],[4.15,.6]];
const shapeV0=[[0,6],[.43,6],[.55,5],[1,2.5],[1.3,4],[1.6,9],[2,13],[2.36,14.7],[2.8,11],[3,8],[3.2,6.7],[3.41,6.7]];
const shapeV1=[[0,13.5],[.05,13.5],[.6,6],[.7,4],[1.1,4],[1.3,7],[1.5,9.5],[2.3,9],[2.5,8.5],[2.8,7],[3,6.5],[3.1,6.5]];
const shapeV2=[[0,14],[.05,13.5],[.7,2],[.85,.8],[1.6,1],[2,2],[2.6,2],[3,2],[3.1,.7],[3.37,.6]];
const violinShapes={'0-0':shapeEndo0,'2-0':shapeSC0,'2-1':shapeSC1,'3-0':shapePc0,'3-1':shapePc1,'5-0':shapeEC0,'5-1':shapeEC1,'10-0':shapeV0,'10-1':shapeV1,'10-2':shapeV2};
/* jittered cells: flat [jitter, value] */
const ptsEndo0=[1,3.07,4,2.55,-1,2.45,-1.5,2.4,3,2.05,-1,2.18,-2,1.93,3,1.89,4,1.88,-1,1.73,-4,1.6,.5,1.65,2.5,1.48,-2,1.46,4,1.48,-3,1.6,-1,1.63,1,1.3,3,1.25,2,1.2,-1,1.15,1,1.1,4,1.12,-2,1.08,3,1.05,-4,1.05,0,1,2,.98,-4,.97,-2,.95,.5,.92,-1,.9,1.5,.9,3,.92,-3,.88,-.5,.85,1,.83,2.5,.83,4,.82,-2,.8,.2,.78,2,.77,-1,.72,1,.72,-3,.7,3,.7,-4,.68,-1,.66,.5,.65,2,.62,-2,.6,4,.58,.5,.55,-2,.53,2,.52,4,.5,-4,.45,-3,.46,1,.44,3,.38,-.5,1.25,1.5,1.15,.8,1.02,-.7,.97,-2.5,1.12,.2,.88,3.5,.98,-3.5,.85];
const ptsEndo1=[2,3.57,.5,3.28,-3.5,3.15,4,2.97,3,2.24,-3.5,2.03,3,2,3,1.9,-3,1.73,3,1.78,4.5,1.7,3,1.7,0,1.53,-3.5,1.49,-2,1.45,-1,1.32,-1,1.27,-.5,1.2,4.5,1.27,-3,1.15,-2,1.15,0,1.08,1,1.06,4.5,1.08,4.5,1.05,4,.95,1.5,.97,-1,.9,0,.85,2,.93,3.5,.85,-2,.82,1,.78,4,.8,-3.5,.73,-1.5,.72,-2,.67,-.5,.65,3.5,.63,4.5,.58,-2.5,.55,-1,.55,0,.55,-3,.55,1,.7];
const ptsEndo2=[3,2.57,-2,2.26,1,2.32,1,2.22,-3,1.9,-.5,1.77,.5,1.77,5,1.63,1,1.6,-3,1.5,0,1.5,4,1.48,4,1.42,1,1.4,2,1.38,-1,1.32,.5,1.3,2,1.3,0,1.22,3,1.17,-3,1.12,.5,1.1,3.5,.92];
const ptsEpi0=[2,2.65,4,2.56,-.5,1.85,-4,1.78,1,1.6,3,1.6,0,1.53,-.5,1.33,1,1.33,4,1.22,3,1.18,5,1.16,-4,1.1,-1,1,0,.97,-4,.9,-1,.9,0,.9,-3,.77,-1,.72,.5,.63];
const ptsEpi1=[.5,3.2,-2,2.95,-4,2.57,-4,2.53,2,2.55,-5,2.4,-.5,2.33,3,2.27,1,2.23,.5,2.02,4,2.05,-1.5,1.93,3,1.83,2.5,1.8,0,1.78,-3,1.75,1,1.66,4,1.66,-3,1.58,-3.5,1.58,0,1.6,3.5,1.55,-3,1.33,1,1.35,2.5,1.35,-1.5,1.2,1.5,1.25,3,1.22,-1,1.1,1,1.1,2.5,1.13,-3,1.1,-4,1.05,-3.5,.98,-1,.9,3,.75,-3,.72,4,.72,-3.5,.68,-1.5,.6,3.5,.63];
const ptsEpi2=[-4,2.88,3,2.71,4,2.56,-1,1.2,1,1.04];
const ptsSC0=[-4,2.95,-2,2.77,-1,2.8,1,2.88,2,2.85,-.5,2.43,1,2.4,-2,2.33,-1,2.34,3,2.18,-4,2.18,1,2.15,3,2.15,-3,1.9,-1,1.95,-2,1.87,1,1.85,2,1.88,-2,1.7,-3,1.67,-1,1.6,2,1.52,1,1.48,3,1.45,-1,1.4,.5,1.4,2,1.42,2,1.35,-1,1.32,.5,1.25,-1,1.15,-2,1.12,-3,1.1,-.5,1.1,1,1.1,-2,.93,2.5,.8,-1,.7,0,.58];
const ptsSC1=[-1,4.08,2,3.8,2.5,3.77,3.5,3.7,1,3.54,0,3.45,-.5,3.25,4,3.26,4,3.18,-4,3.13,-4,3.07,0,3,1,2.92,3,2.9,-3,2.82,3.5,2.82,-1,2.75,1,2.7,-2,2.68,3,2.65,-3,2.55,-1,2.57,1,2.55,2,2.5,-3,2.45,-1,2.42,0,2.4,3,2.4,-3,2.35,1,2.33,-2,2.27,0,2.27,2,2.25,-3,2.2,-1,2.17,1,2.15,3,2.12,-2,2.08,0,2.07,2,2.05,-3,2,-1,1.98,1,1.97,3,1.95,-2,1.9,0,1.88,2,1.88,-3,1.83,-1,1.82,1,1.8,3,1.78,-2,1.75,0,1.72,2,1.72,-3,1.68,-1,1.65,1,1.63,3,1.62,-2,1.58,0,1.58,2,1.55,-3,1.52,-1,1.5,1,1.48,3,1.45,-2,1.42,0,1.42,2,1.38,-3,1.35,-1,1.33,1,1.32,3,1.3,-2,1.27,0,1.25,2,1.22,-3,1.2,-1,1.17,1,1.15,3,1.12,-2,1.1,0,1.08,2,1.05,-3,1,-1,1,1,.97,3,1.02,-3.5,.95,-1,.92,-3,.82,-2,.8,0,.8,-2,.73,-3,.77,-.5,.7,-3.5,.58];
const ptsSC2=[.5,3.65,-1,3.38,0,3.35,1.5,3.15,-2.5,3.18,1,3.05,3,3.02,2,2.98,-4,2.92,-1.5,2.9,0,2.85,1,2.8,-2.5,2.7,1,2.63,-4,2.63,2.5,2.55,-3,2.5,0,2.52,3,2.5,-1,2.38,-3,2.28,-3.5,2.2,-2,2.22,.5,2.25,3,2.2,1.5,2.03,2.5,2,-3,1.9,-4,1.9,-1,1.9,1,1.87,-1,1.72,.5,1.68,3,1.72,-2.5,1.57,-.5,1.27,.5,1.15,-4.5,.99];
const ptsPc0=[-4,3.62,1,3.15,-2,3.08,-1.5,2.82,2,2.85,-1,2.78,.5,2.63,-2,2.45,1,2.47,2,2.45,-2,2.2,2,2.22,0,2.1,-2,2.02,-1,1.95,-3,1.97,-2,1.93,0,1.92,1,2,3,1.98,1.5,1.9,-3,1.75,-2,1.72,-1,1.73,1,1.72,2,1.8,-3,1.6,-2,1.55,0,1.55,2,1.65,-3,1.32,1,1.1,-2,1,-3,.95,-2,.9];
const ptsPc1=[4,3.82,-2,3.37,0,3.45,-2,3.15,1,3.2,3,3,2,2.95,-1,2.93,-1,2.85,0,2.75,-1,2.65,1,2.6,-2,2.55,0,2.52,2,2.45,-3,2.4,0,2.42,1,2.38,-2,2.3,-1,2.22,1,2.2,3,2.2,-2,2.12,0,2.1,2,2.1,-3,2.02,-1,2,1,2.02,3,2,-2,1.95,0,1.92,2,1.92,-3,1.85,-1,1.85,1,1.85,3,1.85,-2,1.78,0,1.76,2,1.75,-3,1.7,-1,1.68,1,1.68,3,1.65,-2,1.58,0,1.58,2,1.6,-3,1.48,-1,1.45,1,1.45,-2,1.35,0,1.33,2,1.35,-1,1.25,1,1.22,0,1.12,3,1.3,-3,1.2,.5,1.02];
const ptsPc2=[-.5,4.4,-4,3.46,0,3.5,1,3.33,-1,3.25,-1.5,3.1,-1,2.8,0,2.77,1,2.71,-1,2.6,-4,2.52,-1.5,2.47,.5,2.58,1,2.5,2,2.48,-4,2.31,0,2.25,2,2.27,1,2.15,.5,2.08,0,1.87,2,1.26];
const ptsBC2=[-21,2.26];
const ptsEC0=[-4.5,3.32,-4.5,3.2,.5,3.3,1,3.3,-3,2.72,.5,2.7,1,2.58,1.5,2.28,4.5,2.32,-4.5,2.15,-4.5,2.08,.5,2.1,-3.5,1.95,-3,1.92,1,1.85,2,1.8,-3,1.78,-1,1.7,1,1.65,3,1.62,-4,1.65,-2,1.55,2,1.58,-3,1.45,0,1.45,2,1.42,4,1.38,-1,1.32,-2,1.28,1,1.3,3,1.25,4,1.2,-1,1.15,1,1.17,3,1.15,-3,1.1,-1,1.05,3,1.05,0,1,2,1,-4,.93,-2,.83,3,.65,-3,.46];
const ptsEC1=[2,4.15,4.5,3.55,-1,3.35,-3,3.28,1,3.2,0,3,-.5,2.95,-1,2.9,.5,2.85,-2,2.75,2,2.78,.5,2.5,2,2.42,3,2.3,1,2.25,-3,2.3,-1,2.25,-3,2.15,-1,2.1,2,2.05,-4,2,-2,2,0,1.98,3,1.95,-3,1.85,-1,1.85,1,1.88,4,1.85,-4,1.72,-2,1.75,0,1.72,2,1.7,4,1.65,-3,1.6,-1,1.58,1,1.55,3,1.55,-2,1.45,0,1.48,2,1.42,4,1.3,-3,1.35,-1,1.3,1,1.28,3,1.2,-4,1.15,-2,1.18,0,1.12,2,1.12,-3,1.02,-1,1,1,.97,4,.95,-4,.75,-3,.7,1,.8];
const ptsEC2=[-3,2.6,3,2.72,-3,2.48,1,2.48,-2.5,2.3,-3,2.28,3,2.23,3,2.1,2,1.95,-4,1.8,-3,1.75,0,1.8,1,1.78,3,1.77,-3,1.62,0,1.6,4,1.77,-3.5,1.5,-1,1.52,1,1.45,4,1.45,-2,1.4,2,1.33,4,1.27,-1,1.2,1,1.2,-2,1.1,4,1.05,-2,.95,1,.92,-2,.7,1,.75,-5,.47,-2,.42,3,.44];
const ptsMa0=[-2,2.83,.5,2.2];
const ptsMa1=[-4.5,2.57,1,2.35,-3,1.35,-3,1.28,-3,.8,-1,.7];
const ptsTC1=[2,3.07,-3,1.88,3,1.1,-2,.95];
const ptsPe0=[0,1.83,3,1.6,-1,1.5,2,1.55,3.5,1.38];
const ptsPe1=[-1,2.87,.8,2.35,.5,1.8,3,1.8,-.5,1.5,3,1.42,3,1.35,-1,1.35,-.5,1.08,-1,.85];
const ptsPe2=[-1.5,2.95,.5,1.72,-4,1.68,-4,1.62,.5,1.6,0,1.27,0,1.2];
const ptsPr0=[1,2.45,-.7,1.88,3,1.6,-1,.93,-3,.88,-3,.73,.5,.72,-1,.65,.5,.63,0,.52,-3,.31];
const ptsPr1=[-3,3.65,-3,3.57,-4,3.37,-4,3.32,-2,3.3,-3,3.12,-3,2.95,3,2.65,3,2.5,3,2.06,-2,1.6,-3,1.37,-1,1.38,2,1.4,2,1.33,0,.65];
const ptsPr2=[-.5,1.8];
const ptsVS0=[2.5,3.41,0,2.8,3,2.7,-3,2.42,-2.5,2.42,-4,2.3,-3,2.26,0,2.08,-.5,2.08,.5,1.6];
const ptsVS1=[-2.5,3.06,-1,3.08,1,3.08,2,3.03,-2,3,-1,2.9,2,2.85,-2,2.55,-1,2.5,2,2.5,-1,2.38,0,2.36,1,2.35,3,2.3,-3,2.3,-1,2.12,1,2.15,-2,1.85,-1,1.85,-1.5,1.8,-1,1.72,0,1.75,1,1.75,-.5,1.65,1,1.6,-1,1.5,0,1.5,2,1.55,-1,1.4,1,1.45,-1,1.3,0,1.28,1,1.22,-1,1.2,1,1.15,-1,1.1];
const ptsVS2=[2,3.37,-2.5,3.1,1,2.83,2,2.65,3,2.55,-2.5,2.5,0,2.5,-.5,2.2,1,2.12,0,1.98,.5,1.95,3,1.93,-3,1.85,-.5,1.88,1,1.7,.5,1.68,0,1.62,-2.5,1.45,-3,1.2];
const ptsNe0=[-5.6,2.85,-8,2.31];
const ptsNe1=[-17.5,3.1,-17.5,1.84];
const ptsNK0=[-8.7,3.3,-3.7,2.5];
const ptsNK1=[-15.6,1.75];
const violinPts={'0-0':ptsEndo0,'0-1':ptsEndo1,'0-2':ptsEndo2,'1-0':ptsEpi0,'1-1':ptsEpi1,'1-2':ptsEpi2,'2-0':ptsSC0,'2-1':ptsSC1,'2-2':ptsSC2,'3-0':ptsPc0,'3-1':ptsPc1,'3-2':ptsPc2,'4-2':ptsBC2,'5-0':ptsEC0,'5-1':ptsEC1,'5-2':ptsEC2,'6-0':ptsMa0,'6-1':ptsMa1,'7-1':ptsTC1,'8-0':ptsPe0,'8-1':ptsPe1,'8-2':ptsPe2,'9-0':ptsPr0,'9-1':ptsPr1,'9-2':ptsPr2,'10-0':ptsVS0,'10-1':ptsVS1,'10-2':ptsVS2,'11-0':ptsNe0,'11-1':ptsNe1,'12-0':ptsNK0,'12-1':ptsNK1};

/* ---------- Rendering ---------- */
const NS='http://www.w3.org/2000/svg';
function mk(tag,parent,attrs,txt){
  const n=document.createElementNS(NS,tag);
  for(const k in attrs)n.setAttribute(k,attrs[k]);
  if(txt!==undefined)n.textContent=txt;
  parent.appendChild(n);
  return n;
}
const stops=[[0,[211,211,211]],[.33,[185,164,226]],[.66,[127,92,240]],[1,[0,0,255]]];
function exprColor(e){
  const t=Math.max(0,Math.min(1,(e+.5)/3));
  for(let i=1;i<stops.length;i++){
    if(t<=stops[i][0]){
      const a=stops[i-1],b=stops[i],f=(t-a[0])/(b[0]-a[0]);
      return 'rgb('+a[1].map((c,j)=>Math.round(c+(b[1][j]-c)*f)).join(',')+')';
    }
  }
  return 'rgb(0,0,255)';
}
const AXIS='#555';
function axisLine(parent,x1,y1,x2,y2,name){
  const l=mk('line',parent,{x1,y1,x2,y2,stroke:AXIS,'stroke-width':2});
  
  
}

/* Panel A */
(function(){
  const g=document.getElementById('panelA');
  const rowY=i=>76+30.5*i;
  const dotR=p=>1.2+.13*p;
  const baseX=[24,25,25,26,27,27,27,28,29,30,31,32,33,33];
  axisLine(g,85,58,85,1346,'dot-plot-y-axis');
  axisLine(g,85,1346,145,1346,'dot-plot-x-axis');
  const xt=mk('line',g,{x1:114,y1:1346,x2:114,y2:1351,stroke:AXIS,'stroke-width':1.5});
  
  
  dotGroups.forEach((name,gi)=>{
    const y0=rowY(gi*3),y2=rowY(gi*3+2);
    const bar=mk('line',g,{x1:36,x2:36,y1:y0-12,y2:y2+10,stroke:'#222','stroke-width':3});
    
    
    const t=mk('text',g,{transform:'translate('+baseX[gi]+','+((y0+y2)/2-1)+') rotate(-90)','text-anchor':'middle','font-size':27,'font-weight':700,style:'fill:#000'},name);
    
    
    dotDays.forEach((d,di)=>{
      const idx=gi*3+di,y=rowY(idx);
      const tx=mk('text',g,{x:40,y:y+7.5,'font-size':25.5,'font-weight':700,style:'fill:#111'},d);
      
      
      const tk=mk('line',g,{x1:78,x2:85,y1:y,y2:y,stroke:AXIS,'stroke-width':1.5});
      
      
      const c=mk('circle',g,{cx:114,cy:y,r:dotR(dotPct[idx]),fill:exprColor(dotExpr[idx])});
      
      
    });
  });
  const lg=document.getElementById('legendA');
  pctLegend.forEach((p,i)=>{
    const y=[589,615,639,665][i];
    const c=mk('circle',lg,{cx:178,cy:y,r:dotR(p),fill:'#000'});
    
    
    const t=mk('text',lg,{x:202,y:y+7,class:'legN'},String(p));
    
    
  });
  exprLegend.forEach((lab,i)=>{
    const y=853-(exprLegendValues[i]+.5)/3*117;
    const l1=mk('line',lg,{x1:168,x2:173,y1:y,y2:y,stroke:'#fff','stroke-width':1});
    
    
    const l2=mk('line',lg,{x1:187,x2:192,y1:y,y2:y,stroke:'#fff','stroke-width':1});
    
    
    const t=mk('text',lg,{x:202,y:y+7,class:'legN'},lab);
    
    
  });
})();

/* tSNE panels */
const clusterColors={Endo:'#F8766D',Epi:'#E38900',SC:'#C49A00',Pcyt:'#99A800',BC:'#53B400',EC:'#00BC56',Macro:'#00C094',TC:'#00BFC4',Peri:'#00B6EB',Proli:'#06A4FF',VSM:'#A58AFF',Netro:'#DF70F8',NK:'#FB61D7',Mast:'#FF66A8'};
const day3Clusters={Endo:d3Endo,Epi:d3Epi,SC:d3SC,Pcyt:d3Pcyt,BC:d3BC,EC:d3EC,Macro:d3Macro,TC:d3TC,Peri:d3Peri,Proli:d3Proli,VSM:d3VSM,Netro:d3Netro,NK:d3NK,Mast:d3Mast};
const day9Clusters={Endo:d9Endo,Epi:d9Epi,SC:d9SC,Pcyt:d9Pcyt,BC:d9BC,EC:d9EC,Macro:d9Macro,TC:d9TC,Peri:d9Peri,Proli:d9Proli,VSM:d9VSM,Netro:d9Netro,NK:d9NK,Mast:d9Mast};
const intactClusters={Endo:inEndo,Epi:inEpi,SC:inSC,Pcyt:inPcyt,BC:inBC,EC:inEC,Macro:inMacro,TC:inTC,Peri:inPeri,Proli:inProli,VSM:inVSM,Netro:inNetro,NK:inNK,Mast:inMast};
function denseR(name,set){
  if(set===day9Clusters&&name==='BC')return 2.7;
  if(set===day9Clusters&&(name==='Netro'||name==='Mast'))return 2.3;
  return 1.95;
}
function xTicks(g,fx,yBase,tag){
  tsneXTicks.forEach(v=>{
    const x=fx(v);
    const l=mk('line',g,{x1:x,x2:x,y1:yBase,y2:yBase+5,stroke:AXIS,'stroke-width':1.5});
    
    
    const t=mk('text',g,{x:x,y:yBase+21,'text-anchor':'middle','font-size':14.5,style:'fill:#333'},String(v));
    
    
  });
}
function yTicks(g,fy,xBase,tag){
  tsneYTicks.forEach(v=>{
    const y=fy(v);
    const l=mk('line',g,{x1:xBase-5,x2:xBase,y1:y,y2:y,stroke:AXIS,'stroke-width':1.5});
    
    
    const t=mk('text',g,{x:xBase-8,y:y+5.5,'text-anchor':'end','font-size':14.5,style:'fill:#333'},String(v));
    
    
  });
}
(function(){
  const g=document.getElementById('panelB');
  const fy=v=>283-3.28*v;
  const panels=[
    {tag:'day3',x0:572,xs:4.23,l:357,r:794,set:day3Clusters,labels:labelsDay3},
    {tag:'day9',x0:1018,xs:4.23,l:802,r:1241,set:day9Clusters,labels:labelsDay9},
    {tag:'intact',x0:1462.5,xs:4.24,l:1250,r:1688,set:intactClusters,labels:labelsIntact}
  ];
  panels.forEach(p=>{
    const fx=v=>p.x0+p.xs*v;
    axisLine(g,p.l,467,p.r,467,'b-x-axis-'+p.tag);
    xTicks(g,fx,467,'b-'+p.tag);
    if(p.tag==='day3'){
      axisLine(g,357,81,357,468,'b-y-axis');
      yTicks(g,fy,357,'b');
    }
    Object.keys(p.set).forEach(name=>{
      const arr=p.set[name];
      const r=denseR(name,p.set);
      for(let i=0;i<arr.length;i+=2){
        const c=mk('circle',g,{cx:fx(arr[i]),cy:fy(arr[i+1]),r:r,fill:clusterColors[name]});
        
        
      }
    });
    p.labels.forEach(lb=>{
      const t=mk('text',g,{x:fx(lb[1]),y:fy(lb[2])+6.5,'text-anchor':'middle','font-size':18.5,style:'fill:#111'},lb[0]);
      
      
    });
  });
  Object.keys(clusterColors).forEach((name,i)=>{
    const y=[158,177,195,214,232,250,269,287,307,325,343,362,380,398][i];
    const c=mk('circle',g,{cx:1713,cy:y,r:4.2,fill:clusterColors[name]});
    
    
    const t=mk('text',g,{x:1730,y:y+6,class:'legT'},name);
    
    
  });
})();
(function(){
  const g=document.getElementById('panelC');
  const fy=v=>767-3.18*v;
  const panels=[
    {tag:'day3',x0:552,xs:3.78,l:356,r:753,set:day3Clusters,hits:hitsDay3,marks:marksDay3},
    {tag:'day9',x0:1046,xs:3.82,l:850,r:1249,set:day9Clusters,hits:hitsDay9,marks:marksDay9},
    {tag:'intact',x0:1539.6,xs:3.82,l:1344.5,r:1745,set:intactClusters,hits:hitsIntact,marks:marksIntact}
  ];
  panels.forEach(p=>{
    const fx=v=>p.x0+p.xs*v;
    axisLine(g,p.l,949,p.r,949,'c-x-axis-'+p.tag);
    axisLine(g,p.l,568,p.l,950,'c-y-axis-'+p.tag);
    xTicks(g,fx,949,'c-'+p.tag);
    yTicks(g,fy,p.l,'c-'+p.tag);
    Object.keys(p.set).forEach(name=>{
      const arr=p.set[name];
      const r=denseR(name,p.set)-.1;
      for(let i=0;i<arr.length;i+=2){
        const c=mk('circle',g,{cx:fx(arr[i]),cy:fy(arr[i+1]),r:r,fill:'#cfcfcf'});
        
        
      }
    });
    for(let i=0;i<p.marks.length;i+=2){
      const x=fx(p.marks[i]),y=fy(p.marks[i+1]);
      const l=mk('line',g,{x1:x-4,x2:x+4,y1:y,y2:y,stroke:'#777','stroke-width':1});
      
      
    }
    for(let i=0;i<p.hits.length;i+=3){
      const c=mk('circle',g,{cx:fx(p.hits[i]),cy:fy(p.hits[i+1]),r:1.8,fill:exprColor(p.hits[i+2])});
      
      
    }
  });
})();

/* Panel D */
(function(){
  const g=document.getElementById('panelD');
  const fy=v=>1345-74.2*v;
  const fx=i=>408+91.4*i;
  const DODGE=27.5;
  const JIT=1.6;
  const fills=['#F8766D','#0a8090','#E58A00'];
  axisLine(g,354,1013,354,1362,'violin-y-axis');
  axisLine(g,354,1361,1652,1361,'violin-x-axis');
  violinYTicks.forEach(v=>{
    const y=fy(v);
    const l=mk('line',g,{x1:349,x2:354,y1:y,y2:y,stroke:AXIS,'stroke-width':1.5});
    
    
    const t=mk('text',g,{x:345,y:y+6,'text-anchor':'end','font-size':16,style:'fill:#333'},String(v));
    
    
  });
  violinCats.forEach((cat,i)=>{
    const cx=fx(i);
    const tk=mk('line',g,{x1:cx,x2:cx,y1:1361,y2:1366,stroke:AXIS,'stroke-width':1.5});
    
    
    const base=mk('line',g,{x1:cx-41,x2:cx+41,y1:fy(0),y2:fy(0),stroke:'#555','stroke-width':1.4});
    
    
    violinConds.forEach((cond,k)=>{
      const key=i+'-'+k;
      const shift=violinShift[key];
      const vx=cx+DODGE*(shift!==undefined?shift:(k-1));
      const top=violinTops[i][k];
      const prof=violinShapes[key];
      if(top>0&&prof){
        let left='',right='';
        prof.forEach((p,pi)=>{
          const v=pi===prof.length-1?top:p[0];
          left+=(pi?'L':'M')+(vx-p[1])+' '+fy(v)+' ';
          right='L'+(vx+p[1])+' '+fy(v)+' '+right;
        });
        const sh=mk('path',g,{d:left+right+'Z',fill:fills[k],stroke:'#333','stroke-width':1});
        
        
      }else if(top>0){
        const ln=mk('line',g,{x1:vx,x2:vx,y1:fy(0),y2:fy(top),stroke:'#555','stroke-width':1.5});
        
        
      }
      const rc=cx+DODGE*(k-1);
      const w=zeroRuns[i][k];
      const zr=mk('line',g,{x1:rc-w,x2:rc+w,y1:fy(0),y2:fy(0),stroke:'#111','stroke-width':3.6,'stroke-linecap':'round'});
      
      
      const pts=violinPts[key]||[];
      for(let n=0;n<pts.length;n+=2){
        const c=mk('circle',g,{cx:vx+pts[n]*JIT,cy:fy(pts[n+1]),r:1.7,fill:'#000'});
        
        
      }
    });
  });
})();
</script>
</body>
</html>
